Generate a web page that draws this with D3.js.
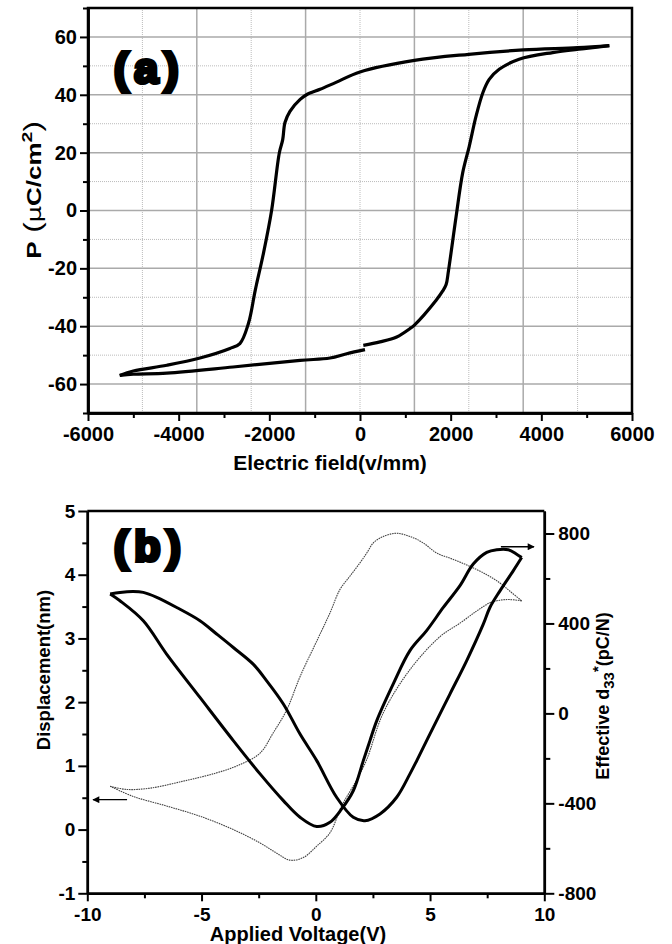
<!DOCTYPE html>
<html>
<head>
<meta charset="utf-8">
<script src="https://cdn.jsdelivr.net/npm/d3@7"></script>
<style>
  body { margin: 0; background: #fff; }
  svg text { font-family: "Liberation Sans", Arial, sans-serif; font-weight: bold; fill: #000; }
</style>
</head>
<body>
<div id="chart"></div>
<script>
// ---- panel (a): P-E hysteresis loop ----
var upperE = [5500, 4800, 3600, 2400, 1200, 0, -530, -880, -1170, -1320, -1545, -1655, -1705, -1780, -1950, -2130, -2310, -2460, -2650, -2870, -3530, -4260, -5000, -5300];
var upperP = [57, 56.3, 55.5, 54, 51.9, 47.9, 44.3, 41.9, 40.1, 38.4, 34.3, 30.4, 24.5, 19.9, 0, -14.8, -27.5, -39, -46, -47.7, -51, -53.5, -55.5, -57];
// small step in the recorded data near 100 v/mm (null = gap)
var lowerE = [-5300, -5000, -4260, -2800, -1320, -662, -293, 110, null, 73, 441, 810, 1103, 1200, 1680, 1825, 1900, 1950, 2120, 2265, 2410, 2560, 2710, 2850, 3070, 3510, 4250, 4990, 5500];
var lowerP = [-57, -56.6, -56.2, -54.1, -51.8, -51, -49.5, -48.1, null, -46.6, -45.4, -43.7, -40.8, -39.6, -31, -27.8, -25.6, -21, -2.1, 13, 22.2, 32.6, 40.7, 45.3, 48.8, 52.3, 54.6, 56, 57];

var ticksE = [-6000, -4000, -2000, 0, 2000, 4000, 6000];
var minorE = [-5000, -3000, -1000, 1000, 3000, 5000];
var ticksP = [-60, -40, -20, 0, 20, 40, 60];
var minorP = [-70, -50, -30, -10, 10, 30, 50, 70];
var gridSolidE = [-3600, -1200, 1200, 3600];
var gridDotE = [-4800, -2400, 0, 2400, 4800];
var gridSolidP = [-60, -40, -20, 0, 20, 40, 60];
var gridDotP = [-50, -30, -10, 10, 30, 50];

// ---- panel (b): displacement and d33 vs voltage ----
var dispUpV = [-9.0, -8.28, -7.26, -5.8, -4.34, -3.32, -2.44, -1.86, -1.27, -0.69, 0.11, 0.62, 1.06, 1.5, 1.94, 2.23, 2.52, 2.95, 3.54, 4.12, 4.7, 5.29, 6.02, 6.75, 7.48, 8.06, 8.5, 9.01];
var dispUpD = [0.68, 0.63, 0.65, 0.76, 0.89, 1.02, 1.2, 1.52, 1.88, 2.4, 3.01, 3.4, 3.77, 3.98, 4.19, 4.34, 4.5, 4.6, 4.65, 4.6, 4.5, 4.34, 4.24, 4.13, 4.0, 3.87, 3.74, 3.59];
var dispDownV = [9.01, 8.5, 8.06, 7.62, 7.04, 6.31, 5.44, 4.12, 2.95, 2.23, 1.79, 1.13, 0.62, 0.04, -0.55, -1.13, -1.71, -2.44, -3.61, -5.07, -6.53, -7.99, -9.0];
var dispDownD = [3.59, 3.61, 3.6, 3.56, 3.43, 3.24, 3.03, 2.51, 1.83, 1.1, 0.78, 0.37, -0.05, -0.26, -0.44, -0.48, -0.37, -0.21, 0.0, 0.21, 0.37, 0.52, 0.68];

var d33AV = [-9.0, -8.57, -7.99, -7.55, -6.96, -6.09, -5.07, -4.34, -3.61, -2.74, -2.15, -1.42, -0.69, 0.04, 0.91, 1.64, 2.15, 2.81, 3.54, 4.12, 4.42, 5.14, 5.87, 6.6, 7.33, 7.62, 8.06, 8.64, 9.01];
var d33A = [531, 538, 542, 538, 516, 471, 412, 353, 293, 219, 145, 42, -92, -210, -373, -462, -477, -447, -373, -269, -210, -62, 86, 234, 397, 471, 545, 634, 693];
var d33BV = [-9.0, -8.57, -7.55, -6.53, -5.07, -3.61, -2.44, -1.42, -0.69, 0.04, 0.62, 1.13, 1.64, 2.08, 2.37, 2.67, 3.39, 4.12, 4.85, 5.58, 6.31, 6.89, 7.48, 7.92, 8.42, 8.79, 9.01];
var d33B = [531, 501, 412, 264, 71, -121, -269, -388, -462, -503, -484, -425, -344, -210, -121, -32, 131, 279, 368, 471, 568, 664, 716, 728, 728, 708, 693];

var ticksV = [-10, -5, 0, 5, 10];
var minorV = [-7.5, -2.5, 2.5, 7.5];
var ticksD = [-1, 0, 1, 2, 3, 4, 5];
var minorD = [-0.5, 0.5, 1.5, 2.5, 3.5, 4.5];
var ticksR = [-800, -400, 0, 400, 800];
var minorR = [-600, -200, 200, 600];

// arrows: [x from, x to, level]
var arrowLeft = [-8.26, -9.75, 0.47];
var arrowRight = [8.1, 9.55, 741];

function pts(xs, ys) {
    return xs.map(function (x, i) { return [x, ys[i]]; });
}

var svg = d3.select("#chart").append("svg")
    .attr("width", 672)
    .attr("height", 944);

svg.append("defs").append("marker")
    .attr("id", "head")
    .attr("viewBox", "0 0 10 10")
    .attr("refX", 9).attr("refY", 5)
    .attr("markerWidth", 9).attr("markerHeight", 7)
    .attr("markerUnits", "userSpaceOnUse")
    .attr("orient", "auto")
    .append("path").attr("d", "M0,0 L10,5 L0,10 Z").attr("fill", "#000");

function styleAxis(g, fs) {
    g.selectAll("path").attr("stroke", "#000").attr("stroke-width", 2.5);
    g.selectAll("line").attr("stroke", "#000").attr("stroke-width", 2);
    g.selectAll("text").style("font-size", fs + "px").attr("fill", "#000");
}

// ================= (a) =================
var xA = d3.scaleLinear().domain([-6000, 6000]).range([88, 632]);
var yA = d3.scaleLinear().domain([-70, 70]).range([413, 8]);
var gA = svg.append("g");

gA.selectAll(".gds").data(gridDotE).enter().append("line")
    .attr("x1", d => xA(d)).attr("x2", d => xA(d))
    .attr("y1", yA(-70)).attr("y2", yA(70))
    .attr("stroke", "#bbb").attr("stroke-width", 1).attr("stroke-dasharray", "1,1");
gA.selectAll(".gdp").data(gridDotP).enter().append("line")
    .attr("x1", xA(-6000)).attr("x2", xA(6000))
    .attr("y1", d => yA(d)).attr("y2", d => yA(d))
    .attr("stroke", "#bbb").attr("stroke-width", 1).attr("stroke-dasharray", "1,1");
gA.selectAll(".gse").data(gridSolidE).enter().append("line")
    .attr("x1", d => xA(d)).attr("x2", d => xA(d))
    .attr("y1", yA(-70)).attr("y2", yA(70))
    .attr("stroke", "#aaa").attr("stroke-width", 1.5);
gA.selectAll(".gsp").data(gridSolidP).enter().append("line")
    .attr("x1", xA(-6000)).attr("x2", xA(6000))
    .attr("y1", d => yA(d)).attr("y2", d => yA(d))
    .attr("stroke", "#aaa").attr("stroke-width", 1.5);

gA.append("rect")
    .attr("x", xA(-6000)).attr("y", yA(70))
    .attr("width", xA(6000) - xA(-6000)).attr("height", yA(-70) - yA(70))
    .attr("fill", "none").attr("stroke", "#000").attr("stroke-width", 2.5);

var lineA = d3.line()
    .defined(d => d[0] !== null && d[1] !== null)
    .x(d => xA(d[0])).y(d => yA(d[1]))
    .curve(d3.curveCatmullRom.alpha(0.5));

gA.append("path").datum(pts(upperE, upperP))
    .attr("d", lineA).attr("fill", "none").attr("stroke", "#000").attr("stroke-width", 3.2);
gA.append("path").datum(pts(lowerE, lowerP))
    .attr("d", lineA).attr("fill", "none").attr("stroke", "#000").attr("stroke-width", 3.2);

var axA = gA.append("g").attr("transform", `translate(0,${yA(-70)})`)
    .call(d3.axisBottom(xA).tickValues(minorE).tickSize(5).tickSizeOuter(0).tickFormat(""));
styleAxis(axA, 20);
axA = gA.append("g").attr("transform", `translate(0,${yA(-70)})`)
    .call(d3.axisBottom(xA).tickValues(ticksE).tickSize(8).tickSizeOuter(0).tickPadding(6).tickFormat(d => String(d)));
styleAxis(axA, 20);
axA = gA.append("g").attr("transform", `translate(${xA(-6000)},0)`)
    .call(d3.axisLeft(yA).tickValues(minorP).tickSize(5).tickSizeOuter(0).tickFormat(""));
styleAxis(axA, 20);
axA = gA.append("g").attr("transform", `translate(${xA(-6000)},0)`)
    .call(d3.axisLeft(yA).tickValues(ticksP).tickSize(8).tickSizeOuter(0).tickPadding(3).tickFormat(d => String(d)));
styleAxis(axA, 20);

gA.append("text")
    .attr("x", 330).attr("y", 470)
    .attr("text-anchor", "middle")
    .style("font-size", "21px")
    .text("Electric field(v/mm)");

// the P label is drawn wider along its own direction, as in the source figure
var pLabel = gA.append("text")
    .attr("transform", "translate(41,190) rotate(-90) scale(1.3,1)")
    .attr("text-anchor", "middle")
    .style("font-size", "20px");
pLabel.append("tspan").text("P");
pLabel.append("tspan").style("font-weight", "normal").style("font-size", "24px").text(" (");
pLabel.append("tspan").style("font-family", "'DejaVu Sans', sans-serif").style("font-weight", "normal").text("\u03bc");
pLabel.append("tspan").text("C/cm");
pLabel.append("tspan").attr("dy", -9).style("font-size", "15px").text("2");
pLabel.append("tspan").attr("dy", 9).style("font-weight", "normal").style("font-size", "24px").text(")");

gA.append("text")
    .attr("x", 114).attr("y", 83)
    .style("font-size", "43px")
    .attr("stroke", "#000").attr("stroke-width", 4)
    .attr("letter-spacing", 6)
    .text("(a)");

// ================= (b) =================
var xB = d3.scaleLinear().domain([-10, 10]).range([87.3, 544.3]);
var yL = d3.scaleLinear().domain([-1, 5]).range([893.3, 511]);
var yR = d3.scaleLinear().domain([-800, 900]).range([893.3, 511]);
var gB = svg.append("g");

var lineL = d3.line().x(d => xB(d[0])).y(d => yL(d[1])).curve(d3.curveCatmullRom.alpha(0.5));
var lineR = d3.line().x(d => xB(d[0])).y(d => yR(d[1])).curve(d3.curveCatmullRom.alpha(0.5));

gB.append("path").datum(pts(dispUpV, dispUpD))
    .attr("d", lineL).attr("fill", "none").attr("stroke", "#444")
    .attr("stroke-width", 1.1).attr("stroke-dasharray", "1.6,0.8");
gB.append("path").datum(pts(dispDownV, dispDownD))
    .attr("d", lineL).attr("fill", "none").attr("stroke", "#444")
    .attr("stroke-width", 1.1).attr("stroke-dasharray", "1.6,0.8");

gB.append("path").datum(pts(d33AV, d33A))
    .attr("d", lineR).attr("fill", "none").attr("stroke", "#000").attr("stroke-width", 3);
gB.append("path").datum(pts(d33BV, d33B))
    .attr("d", lineR).attr("fill", "none").attr("stroke", "#000").attr("stroke-width", 3);

gB.append("line")
    .attr("x1", xB(arrowLeft[0])).attr("x2", xB(arrowLeft[1]))
    .attr("y1", yL(arrowLeft[2])).attr("y2", yL(arrowLeft[2]))
    .attr("stroke", "#000").attr("stroke-width", 1.3).attr("marker-end", "url(#head)");
gB.append("line")
    .attr("x1", xB(arrowRight[0])).attr("x2", xB(arrowRight[1]))
    .attr("y1", yR(arrowRight[2])).attr("y2", yR(arrowRight[2]))
    .attr("stroke", "#000").attr("stroke-width", 1.3).attr("marker-end", "url(#head)");

// top border
gB.append("line")
    .attr("x1", xB(-10)).attr("x2", xB(10))
    .attr("y1", yL(5)).attr("y2", yL(5))
    .attr("stroke", "#000").attr("stroke-width", 2.5);

var axB = gB.append("g").attr("transform", `translate(0,${yL(-1)})`)
    .call(d3.axisBottom(xB).tickValues(minorV).tickSize(5).tickSizeOuter(0).tickFormat(""));
styleAxis(axB, 19);
axB = gB.append("g").attr("transform", `translate(0,${yL(-1)})`)
    .call(d3.axisBottom(xB).tickValues(ticksV).tickSize(8).tickSizeOuter(0).tickPadding(6).tickFormat(d => String(d)));
styleAxis(axB, 19);
axB = gB.append("g").attr("transform", `translate(${xB(-10)},0)`)
    .call(d3.axisLeft(yL).tickValues(minorD).tickSize(5).tickSizeOuter(0).tickFormat(""));
styleAxis(axB, 19);
axB = gB.append("g").attr("transform", `translate(${xB(-10)},0)`)
    .call(d3.axisLeft(yL).tickValues(ticksD).tickSize(9).tickSizeOuter(0).tickPadding(3).tickFormat(d => String(d)));
styleAxis(axB, 19);
axB = gB.append("g").attr("transform", `translate(${xB(10)},0)`)
    .call(d3.axisRight(yR).tickValues(minorR).tickSize(6).tickSizeOuter(0).tickFormat(""));
styleAxis(axB, 19);
axB = gB.append("g").attr("transform", `translate(${xB(10)},0)`)
    .call(d3.axisRight(yR).tickValues(ticksR).tickSize(10).tickSizeOuter(0).tickPadding(4).tickFormat(d => String(d)));
styleAxis(axB, 19);

gB.append("text")
    .attr("x", 298).attr("y", 941)
    .attr("text-anchor", "middle")
    .style("font-size", "20px")
    .text("Applied Voltage(V)");

gB.append("text")
    .attr("transform", "translate(50,670) rotate(-90)")
    .attr("text-anchor", "middle")
    .style("font-size", "18.5px")
    .text("Displacement(nm)");

var rLabel = gB.append("text")
    .attr("transform", "translate(609,696) rotate(-90)")
    .attr("text-anchor", "middle")
    .style("font-size", "18px");
rLabel.append("tspan").text("Effective d");
rLabel.append("tspan").attr("dy", 5).style("font-size", "15px").text("33");
rLabel.append("tspan").attr("dy", -11).style("font-size", "15px").text("*");
rLabel.append("tspan").attr("dy", 6).text("(pC/N)");

gB.append("text")
    .attr("x", 114).attr("y", 561)
    .style("font-size", "43px")
    .attr("stroke", "#000").attr("stroke-width", 4)
    .attr("letter-spacing", 6)
    .text("(b)");
</script>
</body>
</html>
